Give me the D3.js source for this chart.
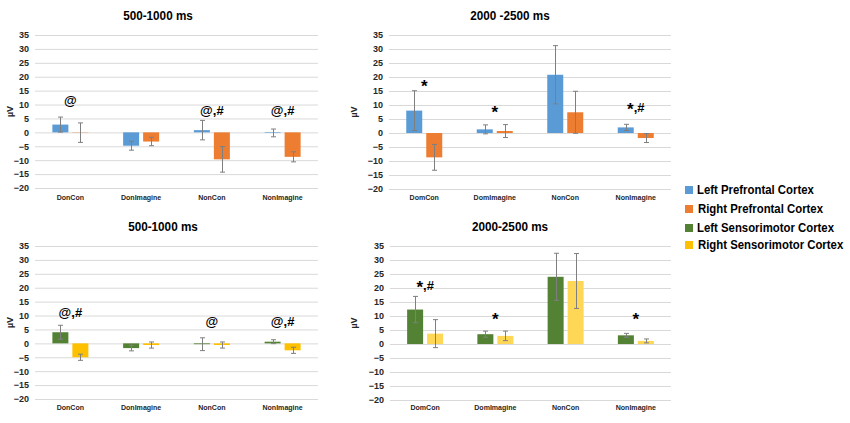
<!DOCTYPE html>
<html>
<head>
<meta charset="utf-8">
<script src="https://cdn.jsdelivr.net/npm/d3@7"></script>
<style>
  html, body { margin: 0; padding: 0; background: #fff; }
  svg text { font-family: "Liberation Sans", Arial, sans-serif; font-weight: bold; }
</style>
</head>
<body>
<svg id="chart" width="850" height="423"></svg>
<script>
// ---------- data ----------
const categoriesDon = ["DonCon", "DonImagine", "NonCon", "NonImagine"];
const categoriesDom = ["DomCon", "DomImagine", "NonCon", "NonImagine"];
const seriesNames = ["Left Prefrontal Cortex", "Right Prefrontal Cortex", "Left Sensorimotor Cortex", "Right Sensorimotor Cortex"];
const yTicks = [-20, -15, -10, -5, 0, 5, 10, 15, 20, 25, 30, 35];
const titles = ["500-1000 ms", "2000 -2500 ms", "500-1000 ms", "2000-2500 ms"];

const leftPrefrontal500 = [2.8, -4.8, 0.8, -0.2];
const leftPrefrontal500Err = [2.7, 1.6, 3.5, 1.4];
const rightPrefrontal500 = [-0.1, -3.3, -9.7, -8.8];
const rightPrefrontal500Err = [3.5, 1.5, 4.6, 1.8];

const leftPrefrontal2000 = [8.0, 1.3, 20.8, 2.0];
const leftPrefrontal2000Err = [7.1, 1.6, 10.4, 1.1];
const rightPrefrontal2000 = [-8.7, 0.7, 7.4, -1.8];
const rightPrefrontal2000Err = [4.6, 2.3, 7.5, 1.6];

const leftSensorimotor500 = [4.0, -1.7, -0.3, 0.6];
const leftSensorimotor500Err = [2.5, 1.0, 2.3, 0.7];
const rightSensorimotor500 = [-5.0, -0.6, -0.6, -2.5];
const rightSensorimotor500Err = [1.1, 1.1, 1.1, 1.1];

const leftSensorimotor2000 = [12.3, 3.5, 24.0, 3.1];
const leftSensorimotor2000Err = [4.7, 1.1, 8.4, 0.7];
const rightSensorimotor2000 = [3.7, 2.9, 22.5, 1.1];
const rightSensorimotor2000Err = [5.0, 1.7, 9.8, 0.7];

// significance markers: [category index, text, baseline level in µV]
const marks500Pre = [[0, "@", 9.7], [2, "@,#", 6.4], [3, "@,#", 6.4]];
const marks2000Pre = [[0, "*", 15.7], [1, "*", 6.3], [3, "*,#", 7.6]];
const marks500Sen = [[0, "@,#", 9.5], [2, "@", 6.3], [3, "@,#", 6.3]];
const marks2000Sen = [[0, "*,#", 19.4], [1, "*", 7.7], [3, "*", 7.7]];

// ---------- styles / layout ----------
const colors = ["#5B9BD5", "#ED7D31", "#548235", "#FFC000"];
const panels = [
  { x0: 35, x1: 318, y0: 35, y1: 188, cats: categoriesDon, title: titles[0], tx: 158, ty: 20, catY: 203, ylx: 10,
    series: [[leftPrefrontal500, leftPrefrontal500Err, colors[0]], [rightPrefrontal500, rightPrefrontal500Err, colors[1]]], marks: marks500Pre },
  { x0: 389, x1: 671, y0: 35, y1: 189, cats: categoriesDom, title: titles[1], tx: 510, ty: 20, catY: 203, ylx: 354,
    series: [[leftPrefrontal2000, leftPrefrontal2000Err, colors[0]], [rightPrefrontal2000, rightPrefrontal2000Err, colors[1]]], marks: marks2000Pre },
  { x0: 35, x1: 318, y0: 246, y1: 399, cats: categoriesDon, title: titles[2], tx: 163, ty: 231, catY: 413, ylx: 10,
    series: [[leftSensorimotor500, leftSensorimotor500Err, colors[2]], [rightSensorimotor500, rightSensorimotor500Err, colors[3]]], marks: marks500Sen },
  { x0: 390, x1: 671, y0: 246, y1: 400, cats: categoriesDom, title: titles[3], tx: 510, ty: 231, catY: 413, ylx: 354,
    series: [[leftSensorimotor2000, leftSensorimotor2000Err, colors[2]], [rightSensorimotor2000, rightSensorimotor2000Err, "#FFD757"]], marks: marks2000Sen }
];

const svg = d3.select("#chart");

function condense(sel, k) {
  sel.each(function () {
    const w = this.getComputedTextLength();
    d3.select(this).attr("textLength", w * k).attr("lengthAdjust", "spacingAndGlyphs");
  });
}

panels.forEach(p => {
  const g = svg.append("g");
  const y = d3.scaleLinear().domain([-20, 35]).range([p.y1, p.y0]);
  const x = d3.scaleBand().domain(p.cats).range([p.x0, p.x1]);
  const inner = d3.scaleBand().domain([0, 1]).range([-18, 18]).paddingInner(0.2);

  // gridlines
  g.append("g").selectAll("line").data(yTicks).join("line")
    .attr("x1", p.x0).attr("x2", p.x1)
    .attr("y1", d => y(d) + 0.5).attr("y2", d => y(d) + 0.5)
    .attr("stroke", "#d9d9d9").attr("stroke-width", 1);

  // y axis labels via d3 axis
  const ax = g.append("g").attr("transform", `translate(${p.x0 - 4},0)`)
    .call(d3.axisLeft(y).tickValues(yTicks).tickSize(0).tickPadding(2));
  ax.select(".domain").remove();
  ax.selectAll("text").attr("font-size", 9).attr("fill", "#262626")
    .attr("font-family", "Liberation Sans").attr("font-weight", "bold");

  // x axis labels
  const xa = g.append("g").attr("transform", `translate(0,${p.catY - 9})`)
    .call(d3.axisBottom(x).tickSize(0).tickPadding(0));
  xa.select(".domain").remove();
  xa.selectAll("text").attr("font-size", 8).attr("fill", "#262626")
    .attr("font-family", "Liberation Sans").attr("font-weight", "bold").attr("dy", "0.71em")
    .call(condense, 0.88);

  // y label
  g.append("text")
    .attr("transform", `translate(${p.ylx},${(p.y0 + p.y1) / 2}) rotate(-90)`)
    .attr("text-anchor", "middle").attr("dy", "0.35em")
    .attr("font-size", 9).attr("fill", "#262626").text("µV");

  // title
  g.append("text").attr("x", p.tx).attr("y", p.ty).attr("text-anchor", "middle")
    .attr("font-size", 13).attr("fill", "#000").text(p.title).call(condense, 0.9);

  // bars
  p.series.forEach((s, si) => {
    const [vals, errs, col] = s;
    const data = p.cats.map((c, i) => ({ c, v: vals[i], e: errs[i] }));
    const bx = d => x(d.c) + x.bandwidth() / 2 + inner(si);
    g.append("g").selectAll("rect").data(data).join("rect")
      .attr("x", bx)
      .attr("width", inner.bandwidth())
      .attr("y", d => Math.min(y(d.v), y(0)))
      .attr("height", d => Math.abs(y(d.v) - y(0)))
      .attr("fill", col);
    // error bars
    const eg = g.append("g").attr("stroke", "#7f7f7f").attr("stroke-width", 1);
    const cx = d => Math.round(bx(d) + inner.bandwidth() / 2) + 0.5;
    eg.selectAll("line.v").data(data).join("line").attr("class", "v")
      .attr("x1", cx).attr("x2", cx)
      .attr("y1", d => y(d.v + d.e)).attr("y2", d => y(d.v - d.e));
    eg.selectAll("line.t").data(data).join("line").attr("class", "t")
      .attr("x1", d => cx(d) - 2.5).attr("x2", d => cx(d) + 2.5)
      .attr("y1", d => y(d.v + d.e)).attr("y2", d => y(d.v + d.e));
    eg.selectAll("line.b").data(data).join("line").attr("class", "b")
      .attr("x1", d => cx(d) - 2.5).attr("x2", d => cx(d) + 2.5)
      .attr("y1", d => y(d.v - d.e)).attr("y2", d => y(d.v - d.e));
  });

  // significance markers (asterisks drawn larger, as in the original)
  g.append("g").selectAll("text").data(p.marks).join("text")
    .attr("x", d => x(p.cats[d[0]]) + x.bandwidth() / 2)
    .attr("y", d => y(d[2]))
    .attr("text-anchor", "middle")
    .attr("font-size", 13).attr("fill", "#000")
    .each(function (d) {
      const t = d3.select(this);
      let shifted = false;
      Array.from(d[1]).forEach(ch => {
        const ts = t.append("tspan").text(ch);
        if (ch === "*") { ts.attr("font-size", 17).attr("dy", 3); shifted = true; }
        else if (shifted) { ts.attr("dy", -3); shifted = false; }
      });
    });
});

// legend
const legY = [190, 209, 228, 245];
const lg = svg.append("g");
seriesNames.forEach((name, i) => {
  lg.append("rect").attr("x", 685).attr("y", legY[i] - 4).attr("width", 8).attr("height", 8).attr("fill", colors[i]);
  lg.append("g").attr("transform", `translate(${697 + (i % 2 === 1 ? 1 : 0)},${legY[i]}) scale(0.91,1)`)
    .append("text").attr("x", 0).attr("y", 0).attr("dy", "0.35em")
    .attr("font-size", 12.5).attr("fill", "#000").text(name);
});
</script>
</body>
</html>
